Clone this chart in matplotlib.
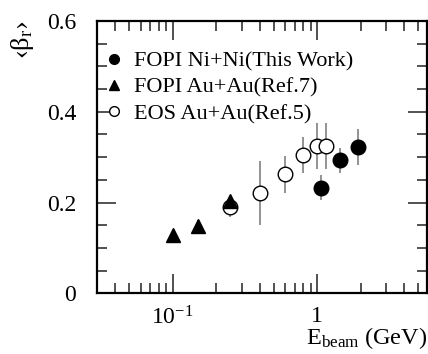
import numpy as np
import matplotlib
matplotlib.use("Agg")
import matplotlib.pyplot as plt
from matplotlib.lines import Line2D
from matplotlib.ticker import FixedLocator, FixedFormatter, NullFormatter

plt.rcParams['font.family'] = ['Liberation Serif', 'DejaVu Serif']
plt.rcParams['mathtext.fontset'] = 'custom'
plt.rcParams['mathtext.rm'] = 'Liberation Serif'
plt.rcParams['mathtext.it'] = 'Liberation Serif:italic'

# FOPI Ni+Ni (this work)
ni_e = [1.06, 1.45, 1.93]
ni_b = [0.233, 0.293, 0.323]
ni_err = [0.028, 0.028, 0.04]

# FOPI Au+Au (Ref. 7)
au_e = [0.10, 0.15, 0.25]
au_b = [0.129, 0.149, 0.203]
au_err = [0.0, 0.012, 0.0]

# EOS Au+Au (Ref. 5)
eos_e = [0.25, 0.40, 0.60, 0.80, 1.00, 1.15]
eos_b = [0.190, 0.221, 0.262, 0.304, 0.325, 0.325]
eos_err = [0.022, 0.07, 0.04, 0.04, 0.05, 0.05]

labels = ["FOPI Ni+Ni(This Work)", "FOPI Au+Au(Ref.7)", "EOS Au+Au(Ref.5)"]

fig = plt.figure(figsize=(4.28, 3.54), dpi=100)
ax = fig.add_axes([0.2266, 0.1714, 0.771, 0.7693])

ms = 10.5
ax.errorbar(eos_e, eos_b, yerr=eos_err, fmt='o', ms=ms, mfc='white', mec='black',
            mew=1.0, ecolor='#8a8a8a', elinewidth=1.3, capsize=0, zorder=3)
ax.errorbar(ni_e, ni_b, yerr=ni_err, fmt='o', ms=ms, mfc='black', mec='black',
            ecolor='#8a8a8a', elinewidth=1.3, capsize=0, zorder=4)
ax.errorbar(au_e, au_b, yerr=au_err, fmt='^', ms=ms, mfc='black', mec='black',
            ecolor='#555555', elinewidth=1.3, capsize=0, zorder=5)

ax.set_xscale('log')
ax.set_xlim(0.03, 5.75)
ax.set_ylim(0, 0.6)

ax.xaxis.set_major_locator(FixedLocator([0.1, 1]))
ax.xaxis.set_major_formatter(FixedFormatter(["10$^{-1}$", "1"]))
ax.xaxis.set_minor_locator(FixedLocator([0.03, 0.04, 0.05, 0.06, 0.07, 0.08, 0.09,
                                         0.2, 0.3, 0.4, 0.5, 0.6, 0.7, 0.8, 0.9,
                                         2, 3, 4, 5]))
ax.xaxis.set_minor_formatter(NullFormatter())
ax.set_yticks([0, 0.2, 0.4, 0.6])
ax.set_yticklabels(["0", "0.2", "0.4", "0.6"])
ax.set_yticks(np.arange(0, 0.61, 0.05), minor=True)

ax.tick_params(which='both', direction='in', top=True, right=True, labelsize=17,
               width=1.2, color='#333333')
ax.tick_params(which='major', length=14)
ax.tick_params(which='minor', length=7)
ax.tick_params(axis='x', which='major', pad=9)
ax.tick_params(axis='y', which='major', pad=15)
for s in ax.spines.values():
    s.set_linewidth(1.6)

ax.set_xlabel(r"E$_{\mathrm{beam}}$ (GeV)", fontsize=17.5, loc='right', labelpad=-3)
ax.set_ylabel(r"‹β$_{\mathrm{r}}$›", fontsize=19, loc='top', labelpad=8)

handles = [
    Line2D([], [], ls='none', marker='o', ms=7, mfc='black', mec='black'),
    Line2D([], [], ls='none', marker='^', ms=7, mfc='black', mec='black'),
    Line2D([], [], ls='none', marker='o', ms=7, mfc='white', mec='black'),
]
ax.legend(handles, labels, loc='upper left', bbox_to_anchor=(-0.027, 0.955),
          frameon=False, fontsize=16, handlelength=0.7, handletextpad=0.55,
          labelspacing=0.26, borderaxespad=0.4)

fig.savefig("out.png", dpi=100)
